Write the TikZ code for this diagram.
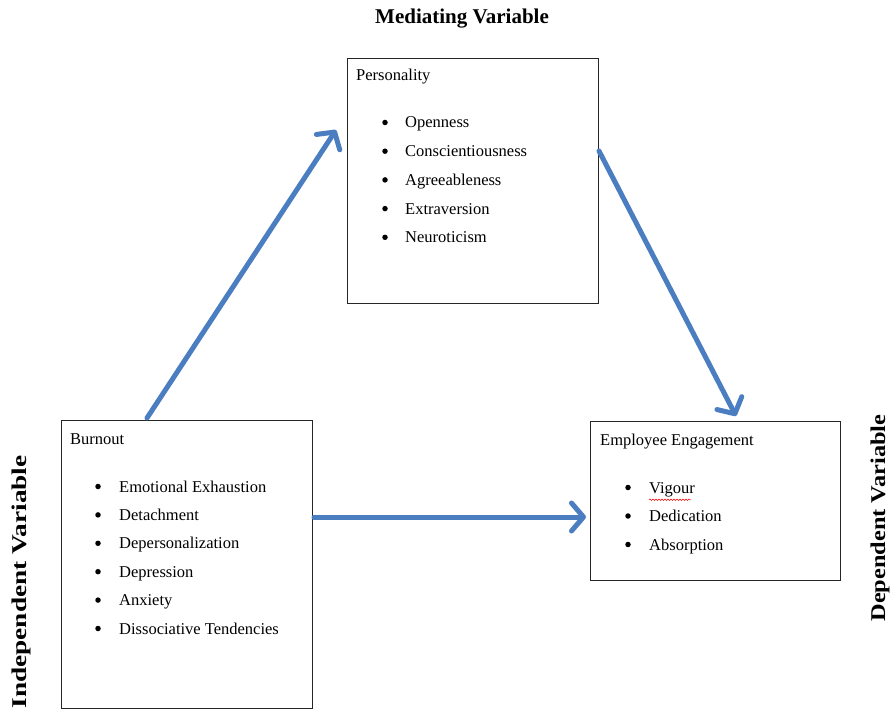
\documentclass[tikz,border=0pt]{standalone}
\usepackage{fontspec}
\usepackage{graphicx}
\setmainfont{Liberation Serif}
\usetikzlibrary{arrows.meta,decorations.pathmorphing}
\definecolor{arrowblue}{HTML}{4A7EC0}
\tikzset{
  box/.style={draw=black!85, line width=1.2pt},
  link/.style={draw=arrowblue, line width=5pt, line cap=round,
    -{Straight Barb[length=12pt,width=28pt,line cap=round,line join=round]}},
  ttl/.style={anchor=base west, inner sep=0pt, font=\fontsize{16.5}{19}\selectfont},
  itm/.style={anchor=base west, inner sep=0pt, font=\fontsize{16.5}{19}\selectfont},
  bul/.style={fill=black, circle, inner sep=0pt, minimum size=5.5pt},
  lbl/.style={inner sep=0pt, font=\fontsize{21}{24}\selectfont\bfseries},
}
\begin{document}
\begin{tikzpicture}[x=1pt,y=-1pt]
\useasboundingbox (0,0) rectangle (892,711);
% boxes
\node[box, minimum width=251pt, minimum height=245pt, anchor=north west, inner sep=0pt] (pers) at (347,58) {};
\node[box, minimum width=251pt, minimum height=288pt, anchor=north west, inner sep=0pt] (burn) at (61,420) {};
\node[box, minimum width=250pt, minimum height=159pt, anchor=north west, inner sep=0pt] (eng) at (590,421) {};
% labels
\node[lbl] (med) at (462,19) {Mediating Variable};
\node[lbl, rotate=90] (ind) at (21,582) {\scalebox{1.3}[1]{Independent Variable}};
\node[lbl, rotate=90] (dep) at (880,518) {\scalebox{1.16}[1]{Dependent Variable}};
% Personality
\node[ttl] (pt) at (356,81) {Personality};
\foreach \t [count=\i] in {Openness,Conscientiousness,Agreeableness,Extraversion,Neuroticism}{
  \node[bul] (pb\i) at (385,{122.5+28.7*(\i-1)}) {};
  \node[itm] (pi\i) at (405,{128+28.7*(\i-1)}) {\t};
}
% Burnout
\node[ttl] (bt) at (70,444) {Burnout};
\foreach \t [count=\i] in {Emotional Exhaustion,Detachment,Depersonalization,Depression,Anxiety,Dissociative Tendencies}{
  \node[bul] (bb\i) at (98,{486.5+28.4*(\i-1)}) {};
  \node[itm] (bi\i) at (119,{492+28.4*(\i-1)}) {\t};
}
% Employee Engagement
\node[ttl] (et) at (600,446) {Employee Engagement};
\foreach \t [count=\i] in {Vigour,Dedication,Absorption}{
  \node[bul] (eb\i) at (628,{487.5+28.5*(\i-1)}) {};
  \node[itm] (ei\i) at (649,{493+28.5*(\i-1)}) {\t};
}
\draw[red, line width=0.5pt, decorate, decoration={snake, amplitude=0.8pt, segment length=3pt}] (ei1.south west) ++(0,3) -- ++(42,0);
% arrows
\coordinate (a1s) at (147,418);
\coordinate (a1e) at (336,130);
\coordinate (a2s) at (599,151);
\coordinate (a2e) at (736,416);
\coordinate (a3s) at (314,517);
\coordinate (a3e) at (586,517);
\draw[link] (a1s) -- (a1e);
\draw[link] (a2s) -- (a2e);
\draw[link] (a3s) -- (a3e);
\end{tikzpicture}
\end{document}
